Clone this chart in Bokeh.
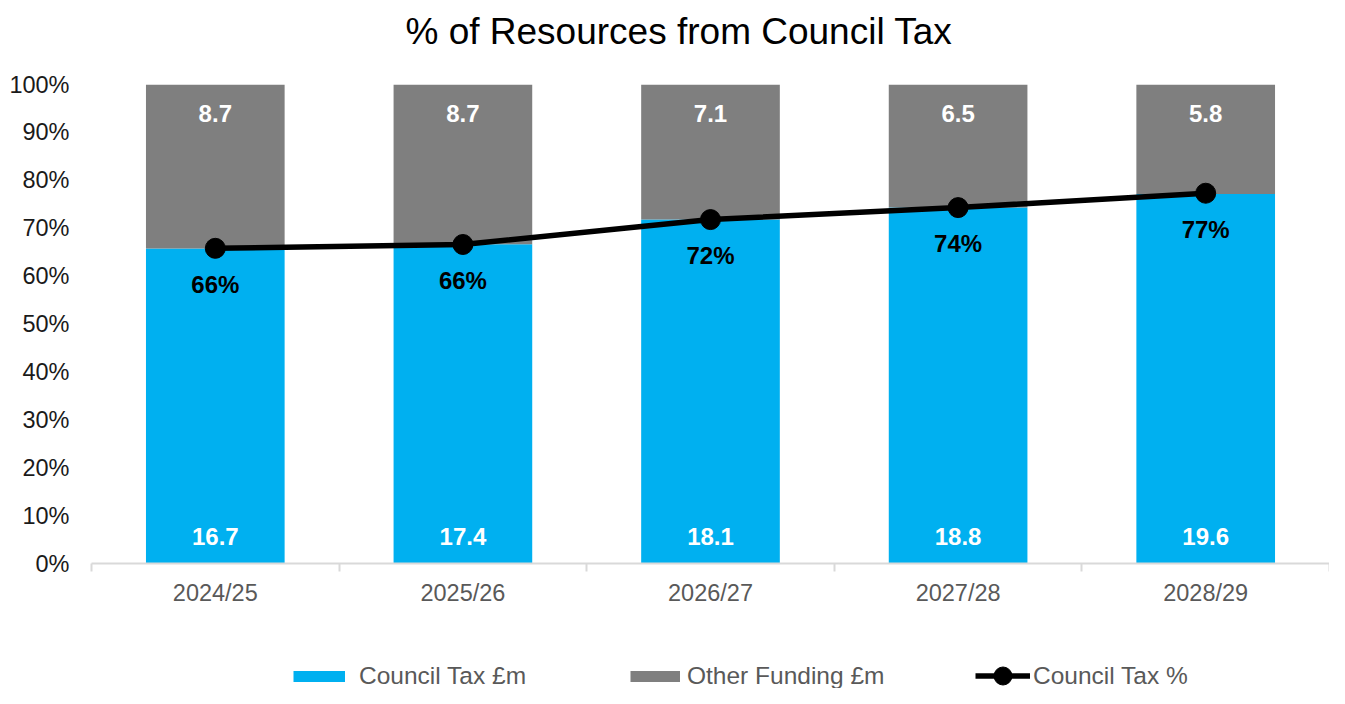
from bokeh.plotting import figure
from bokeh.layouts import column
from bokeh.models import (ColumnDataSource, Range1d, FixedTicker, LabelSet, Title,
                          Legend, LegendItem, PrintfTickFormatter)
from bokeh.core.properties import value
from bokeh.embed import file_html
from bokeh.resources import INLINE

# ---- data ----
years = ["2024/25", "2025/26", "2026/27", "2027/28", "2028/29"]
council_tax = [16.7, 17.4, 18.1, 18.8, 19.6]
other_funding = [8.7, 8.7, 7.1, 6.5, 5.8]
ct_pct = [65.8, 66.6, 71.8, 74.3, 77.3]
ct_pct_labels = ["66%", "66%", "72%", "74%", "77%"]
y_ticks = [0, 10, 20, 30, 40, 50, 60, 70, 80, 90, 100]

FONT = "Liberation Sans"
BLUE = "#00B0F0"
GREY = "#7F7F7F"
AXIS_GREY = "#D9D9D9"
TEXT_GREY = "#595959"

n = len(years)
xs = [i + 0.5 for i in range(n)]
ct_share = [100.0 * c / (c + o) for c, o in zip(council_tax, other_funding)]
oth_share = [100.0 - s for s in ct_share]

src = ColumnDataSource(dict(
    x=xs, ct=ct_share, oth=oth_share,
    ct_lbl=[f"{v:.1f}" for v in council_tax],
    oth_lbl=[f"{v:.1f}" for v in other_funding],
    top=[100] * n, bottom=[0] * n,
    pct=ct_pct, pct_lbl=ct_pct_labels,
))

W = 1329
LEFT = 91
p = figure(width=W, height=620, x_range=Range1d(0, n), y_range=Range1d(0, 100),
           output_backend="svg", toolbar_location=None,
           min_border_left=LEFT, min_border_right=0, min_border_top=84, min_border_bottom=57)
p.outline_line_color = None
p.xgrid.grid_line_color = None
p.ygrid.grid_line_color = None

# title (a small spacer panel sits between the title and the plot area)
p.add_layout(Title(text=" ", text_font_size="10px", standoff=20), "above")
p.add_layout(Title(text="% of Resources from Council Tax", text_font=FONT,
                   text_font_size="37px", text_font_style="normal", text_color="#000000",
                   align="left", offset=314, standoff=0), "above")

# bars
bars = p.vbar_stack(["ct", "oth"], x="x", width=0.56, color=[BLUE, GREY],
                    line_color=None, source=src)

# line
ln = p.line("x", "pct", source=src, line_color="black", line_width=5.5)
sc = p.scatter("x", "pct", source=src, size=20, fill_color="black", line_color="black")

# labels
lab_kw = dict(text_font=value(FONT), text_font_size=value("24px"),
              text_font_style=value("bold"),
              text_align=value("center"), text_baseline=value("middle"))
p.add_layout(LabelSet(x="x", y="bottom", text="ct_lbl", source=src, y_offset=27,
                      text_color=value("white"), **lab_kw))
p.add_layout(LabelSet(x="x", y="top", text="oth_lbl", source=src, y_offset=-29,
                      text_color=value("white"), **lab_kw))
p.add_layout(LabelSet(x="x", y="pct", text="pct_lbl", source=src, y_offset=-36,
                      text_color=value("black"), **lab_kw))

# axes
xa = p.xaxis[0]
xa.ticker = FixedTicker(ticks=xs, minor_ticks=list(range(n + 1)))
xa.major_label_overrides = {x: y for x, y in zip(xs, years)}
xa.axis_line_color = AXIS_GREY
xa.axis_line_width = 2
xa.major_tick_line_color = None
xa.major_tick_out = 0
xa.major_tick_in = 0
xa.minor_tick_line_color = AXIS_GREY
xa.minor_tick_line_width = 2
xa.minor_tick_out = 8
xa.minor_tick_in = 0
xa.major_label_standoff = 8
xa.major_label_text_font = FONT
xa.major_label_text_font_size = "23.5px"
xa.major_label_text_color = TEXT_GREY

ya = p.yaxis[0]
ya.ticker = FixedTicker(ticks=y_ticks)
ya.formatter = PrintfTickFormatter(format="%d%%")
ya.axis_line_color = None
ya.major_tick_line_color = None
ya.minor_tick_line_color = None
ya.major_tick_out = 0
ya.major_tick_in = 0
ya.major_label_standoff = 22
ya.major_label_text_font = FONT
ya.major_label_text_font_size = "23.5px"
ya.major_label_text_color = "#1A1A1A"

# ---- legend strip under the chart ----
lg = figure(width=W, height=68, x_range=Range1d(0, 1), y_range=Range1d(0, 1),
            x_axis_type=None, y_axis_type=None, output_backend="svg",
            toolbar_location=None, min_border_left=0, min_border_right=0,
            min_border_top=0, min_border_bottom=0)
lg.outline_line_color = None
lg.xgrid.grid_line_color = None
lg.ygrid.grid_line_color = None

nan = float("nan")
key_src = ColumnDataSource(dict(x=[nan], y=[nan]))
ct_key = lg.line("x", "y", source=key_src, line_color=BLUE, line_width=11, line_cap="butt")
oth_key = lg.line("x", "y", source=key_src, line_color=GREY, line_width=11, line_cap="butt")
pct_key_l = lg.line("x", "y", source=key_src, line_color="black", line_width=5.5)
pct_key_m = lg.scatter("x", "y", source=key_src, fill_color="black", line_color="black")

leg_kw = dict(border_line_color=None, background_fill_alpha=0, padding=0, margin=0,
              label_text_font=FONT, label_text_font_size="24.5px",
              label_text_color=TEXT_GREY, orientation="horizontal")
lg.add_layout(Legend(items=[LegendItem(label="Council Tax £m", renderers=[ct_key])],
                     location=(293 - LEFT, -2), glyph_width=52, glyph_height=28,
                     label_standoff=14, **leg_kw))
lg.add_layout(Legend(items=[LegendItem(label="Other Funding £m", renderers=[oth_key])],
                     location=(630 - LEFT, -2), glyph_width=50, glyph_height=28,
                     label_standoff=7, **leg_kw))
lg.add_layout(Legend(items=[LegendItem(label="Council Tax %",
                                       renderers=[pct_key_l, pct_key_m])],
                     location=(975 - LEFT, -10), glyph_width=55, glyph_height=45,
                     label_standoff=3, **leg_kw))

layout = column(p, lg, spacing=0)
open("out.html", "w").write(file_html(layout, INLINE))
